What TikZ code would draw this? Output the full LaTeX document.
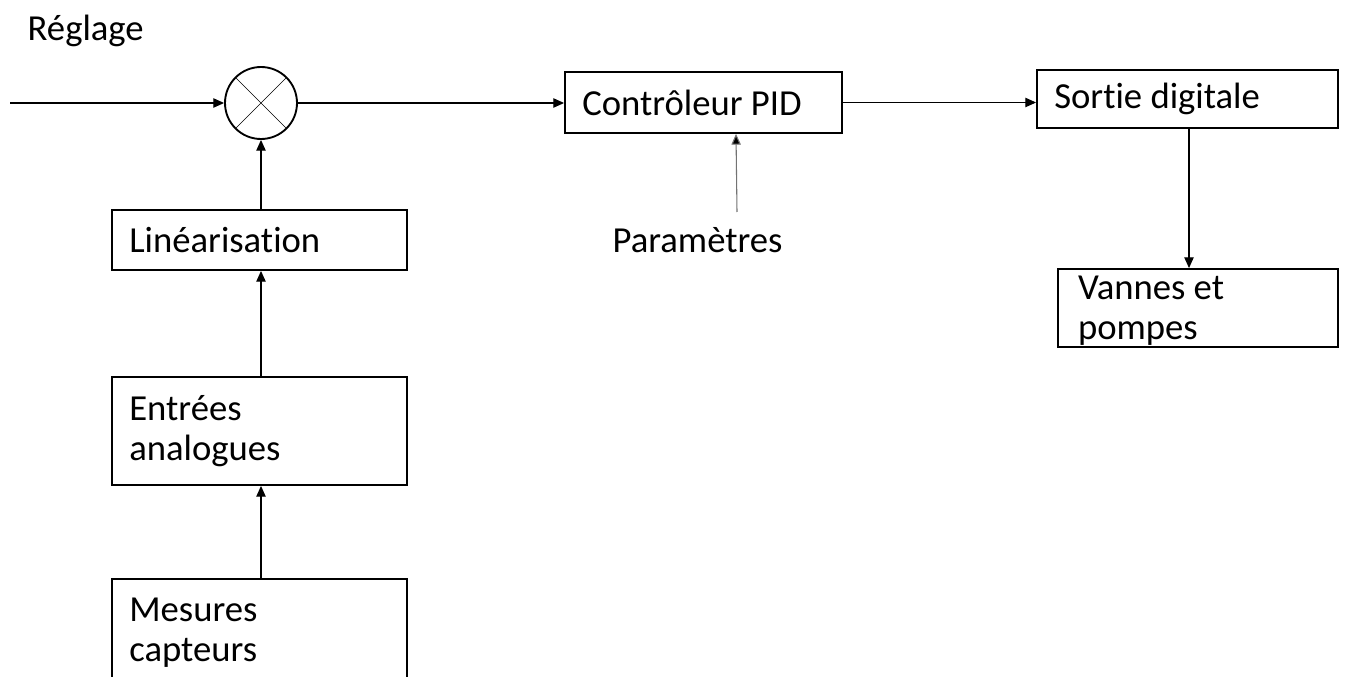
\documentclass[tikz,border=0pt]{standalone}
\usepackage{fontspec}
\setmainfont[Ligatures=NoCommon]{Carlito}
\usetikzlibrary{arrows.meta}
\begin{document}
\begin{tikzpicture}[x=0.75pt,y=-0.75pt,
  every node/.style={font=\fontsize{27.5}{30}\selectfont},
  blk/.style={draw, line width=1.4pt, align=flush left, inner xsep=13pt, inner ysep=0pt},
  arr/.style={line width=0.8pt, -{Triangle[length=8pt,width=7pt]}},
  garr/.style={line width=0.8pt, draw=black!55, -{Triangle[length=8pt,width=7pt,fill=black]}}]
\clip (0,0) rectangle (1346,677);
\fill[white] (0,0) rectangle (1346,677);

\node[anchor=base west] (reg) at (23,41) {Réglage};
\node[draw, circle, line width=1.4pt, minimum size=54pt, inner sep=0pt] (sum) at (261,103) {};
\draw[line width=0.5pt] (sum.north west) -- (sum.south east) (sum.north east) -- (sum.south west);

\node[blk, text width=195.25pt, minimum height=45pt] (lin) at (259.5,240) {Linéarisation};
\node[blk, text width=195.25pt, minimum height=81pt] (ent) at (259.5,431) {Entrées\\analogues};
\node[blk, text width=195.25pt, minimum height=81pt] (mes) at (259.5,633) {Mesures\\capteurs};
\node[blk, text width=181.75pt, minimum height=45.75pt] (pid) at (703.5,102.5) {Contrôleur PID};
\node[blk, text width=199.75pt, minimum height=43.5pt] (sor) at (1187.5,99) {Sortie digitale};
\node[blk, text width=180pt, minimum height=58.5pt, inner xsep=15pt] (van) at (1198,308) {\rule{0pt}{21pt}Vannes et\\pompes};
\node[anchor=base] (par) at (697.5,253) {Paramètres};

\coordinate (in) at (10,103);
\coordinate (pa) at (737,212);
\draw[arr] (in) -- (sum.west);
\draw[arr] (sum.east) -- (pid.west |- sum.east);
\draw[arr] (pid.east) -- (pid.east -| sor.west);
\draw[arr] (sor.south -| 1189,0) -- (van.north -| 1189,0);
\draw[arr] (lin.north -| sum.south) -- (sum.south);
\draw[arr] (ent.north -| sum.south) -- (lin.south -| sum.south);
\draw[arr] (mes.north -| sum.south) -- (ent.south -| sum.south);
\draw[garr] (pa) -- (pid.south -| 736,0);
\end{tikzpicture}
\end{document}
